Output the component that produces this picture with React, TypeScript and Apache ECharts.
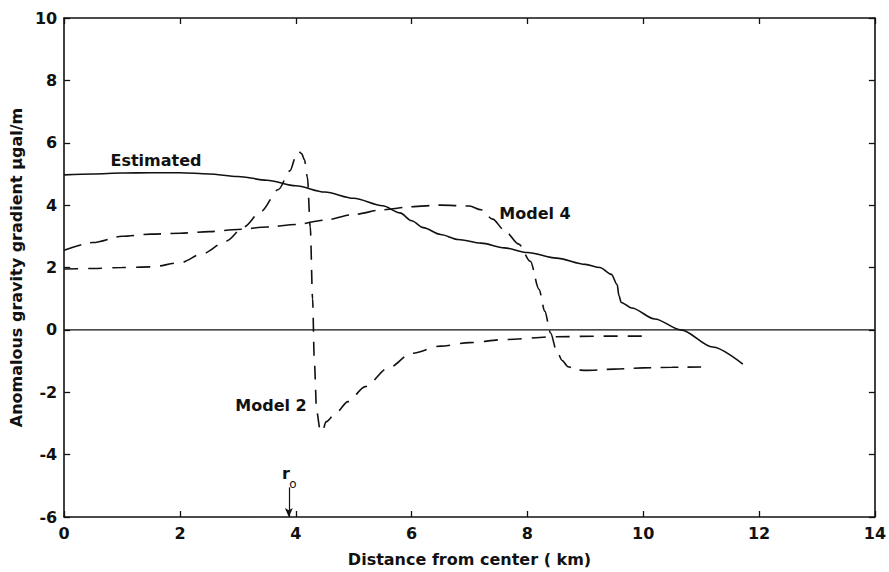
import React, { useEffect, useRef } from "react";
import * as echarts from "echarts";

// Distance from center (km) and anomalous gravity gradient (µgal/m)
const estimatedX = [0, 0.5, 1, 1.5, 2, 2.5, 3, 3.5, 4, 4.5, 5, 5.5, 5.8, 6.0, 6.2, 6.5, 6.8, 7.2, 7.6, 8.0, 8.5, 9.0, 9.25, 9.45, 9.55, 9.58, 9.62, 9.8, 10.2, 10.65, 11.2, 11.72];
const estimatedY = [4.97, 5.0, 5.03, 5.04, 5.04, 5.0, 4.92, 4.8, 4.62, 4.42, 4.22, 3.98, 3.75, 3.5, 3.28, 3.06, 2.9, 2.78, 2.63, 2.48, 2.3, 2.1, 2.0, 1.78, 1.45, 1.1, 0.88, 0.7, 0.35, 0, -0.55, -1.1];

const model4X = [0, 0.5, 1.0, 1.5, 2.0, 2.5, 3.0, 3.5, 4.0, 4.5, 5.0, 5.5, 6.0, 6.5, 7.0, 7.2, 7.4, 7.6, 7.85, 8.05, 8.2, 8.3, 8.4, 8.5, 8.6, 8.7, 8.85, 9.0, 9.5, 10.0, 10.5, 11.0];
const model4Y = [2.55, 2.8, 3.0, 3.07, 3.1, 3.15, 3.22, 3.3, 3.38, 3.52, 3.7, 3.85, 3.95, 4.0, 3.97, 3.85, 3.55, 3.2, 2.75, 2.2, 1.3, 0.6, -0.1, -0.65, -0.98, -1.18, -1.28, -1.3, -1.26, -1.22, -1.2, -1.19];

const model2X = [0, 0.5, 1.0, 1.5, 2.0, 2.4, 2.8, 3.1, 3.4, 3.7, 3.9, 4.0, 4.05, 4.1, 4.15, 4.2, 4.25, 4.29, 4.32, 4.36, 4.42, 4.46, 4.52, 4.7, 4.9, 5.2, 5.6, 6.0, 6.5, 7.0, 7.6, 8.5, 9.3, 10.0];
const model2Y = [1.95, 1.97, 2.0, 2.02, 2.15, 2.45, 2.85, 3.3, 3.8, 4.5, 5.1, 5.55, 5.72, 5.65, 5.45, 4.9, 3.3, 1.0, -1.0, -2.6, -3.2, -3.27, -2.95, -2.65, -2.3, -1.82, -1.22, -0.75, -0.52, -0.41, -0.31, -0.22, -0.2, -0.2];

const zeroLineX = [0, 14];
const zeroLineY = [0, 0];
const rOArrowX = [3.88, 3.88];
const rOArrowY = [-5.05, -6];

const xTicks = { min: 0, max: 14, interval: 2 };
const yTicks = { min: -6, max: 10, interval: 2 };

const zip = (xs: number[], ys: number[]) => xs.map((x, i) => [x, ys[i]]);

const FONT = "DejaVu Sans";
const INK = "#111";

export default function App() {
  const ref = useRef<HTMLDivElement>(null);
  useEffect(() => {
    if (!ref.current) return;
    const chart = echarts.init(ref.current, undefined, { renderer: "svg" });
    const tickStyle = { show: true, inside: true, length: 6, lineStyle: { color: INK, width: 1.3 } };
    const axisLineStyle = { show: true, onZero: false, lineStyle: { color: INK, width: 1.6 } };
    const labelStyle = { color: INK, fontFamily: FONT, fontWeight: "bold" as const, fontSize: 16 };
    chart.setOption({
      animation: false,
      backgroundColor: "#fff",
      grid: { left: 63, right: 10, top: 18, bottom: 52, show: false },
      xAxis: [
        {
          type: "value", ...xTicks, position: "bottom",
          axisLine: axisLineStyle, axisTick: tickStyle, splitLine: { show: false },
          axisLabel: { ...labelStyle, margin: 8 },
          name: "Distance from center ( km)", nameLocation: "middle", nameGap: 34,
          nameTextStyle: labelStyle,
        },
        {
          type: "value", ...xTicks, position: "top",
          axisLine: axisLineStyle, axisTick: tickStyle, splitLine: { show: false },
          axisLabel: { show: false },
        },
      ],
      yAxis: [
        {
          type: "value", ...yTicks, position: "left",
          axisLine: axisLineStyle, axisTick: tickStyle, splitLine: { show: false },
          axisLabel: { ...labelStyle, margin: 7 },
          name: "Anomalous gravity gradient µgal/m", nameLocation: "middle", nameGap: 36,
          nameRotate: 90, nameTextStyle: labelStyle,
        },
        {
          type: "value", ...yTicks, position: "right",
          axisLine: axisLineStyle, axisTick: tickStyle, splitLine: { show: false },
          axisLabel: { show: false },
        },
      ],
      series: [
        {
          name: "Zero", type: "line", data: zip(zeroLineX, zeroLineY), symbol: "none",
          lineStyle: { color: INK, width: 1.2 },
          markLine: {
            silent: true, symbol: ["none", "arrow"], symbolSize: [6, 9],
            lineStyle: { color: INK, width: 1.2, type: "solid" }, label: { show: false },
            data: [[{ coord: [rOArrowX[0], rOArrowY[0]] }, { coord: [rOArrowX[1], rOArrowY[1]] }]],
          },
        },
        {
          name: "Estimated", type: "line", data: zip(estimatedX, estimatedY), symbol: "none",
          smooth: 0.3, smoothMonotone: "x",
          lineStyle: { color: INK, width: 1.6 },
        },
        {
          name: "Model 4", type: "line", data: zip(model4X, model4Y), symbol: "none",
          smooth: 0.3, smoothMonotone: "x",
          lineStyle: { color: INK, width: 1.6, type: [18, 9] },
        },
        {
          name: "Model 2", type: "line", data: zip(model2X, model2Y), symbol: "none",
          smooth: 0.3, smoothMonotone: "x",
          lineStyle: { color: INK, width: 1.6, type: [14, 10] },
        },
      ],
      graphic: [
        { type: "text", x: 156, y: 160, style: { text: "Estimated", font: `bold 16px "${FONT}"`, fill: INK, align: "center", verticalAlign: "middle" } },
        { type: "text", x: 535, y: 213, style: { text: "Model 4", font: `bold 16px "${FONT}"`, fill: INK, align: "center", verticalAlign: "middle" } },
        { type: "text", x: 271, y: 405, style: { text: "Model 2", font: `bold 16px "${FONT}"`, fill: INK, align: "center", verticalAlign: "middle" } },
        { type: "text", x: 286, y: 473, style: { text: "r", font: `bold 16px "${FONT}"`, fill: INK, align: "center", verticalAlign: "middle" } },
        { type: "text", x: 293, y: 484, style: { text: "o", font: `12px "${FONT}"`, fill: INK, align: "center", verticalAlign: "middle" } },
      ],
    });
    return () => chart.dispose();
  }, []);
  return (
    <div
      ref={ref}
      style={{ position: "absolute", left: 0, top: 0, width: 889, height: 572, background: "#fff" }}
    />
  );
}
